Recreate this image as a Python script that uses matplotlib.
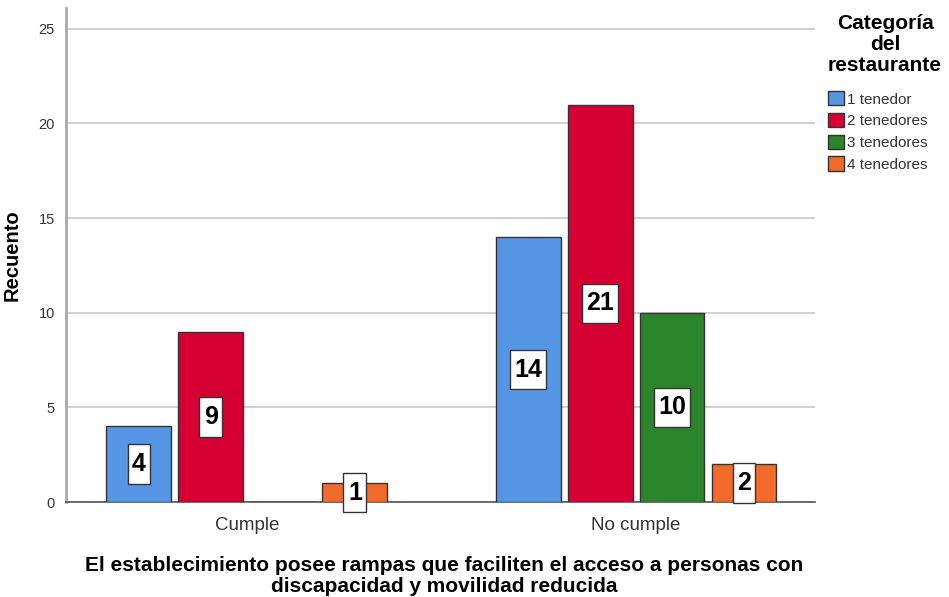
import numpy as np
import matplotlib
matplotlib.use("Agg")
import matplotlib.pyplot as plt
from matplotlib.path import Path

plt.rcParams["font.family"] = ["Liberation Sans", "DejaVu Sans"]

# Recuentos por grupo de cumplimiento y categoría del restaurante
grupos = ["Cumple", "No cumple"]
categorias = ["1 tenedor", "2 tenedores", "3 tenedores", "4 tenedores"]
recuento = {
    "1 tenedor": [4, 14],
    "2 tenedores": [9, 21],
    "3 tenedores": [0, 10],
    "4 tenedores": [1, 2],
}
colores = ["#5496E4", "#D60032", "#2B852A", "#F26B2B"]


def caja_alta(x0, y0, width, height, mutation_size):
    # caja rectangular con más relleno vertical que horizontal
    px = 0.18 * mutation_size
    py = 0.31 * mutation_size
    x0, x1 = x0 - px, x0 + width + px
    y0, y1 = y0 - py, y0 + height + py
    return Path([(x0, y0), (x1, y0), (x1, y1), (x0, y1), (x0, y0)],
                closed=True)


fig = plt.figure(figsize=(9.49, 5.97), dpi=100)
ax = fig.add_axes([66 / 949, 1 - 502 / 597, (815 - 66) / 949, (502 - 8) / 597])

x = np.arange(len(grupos))
ancho = 0.167
paso = 0.185
for i, (cat, col) in enumerate(zip(categorias, colores)):
    pos = x + (i - 1.5) * paso
    vals = recuento[cat]
    ax.bar(pos, vals, width=ancho, color=col, edgecolor="#333333",
           linewidth=1.0, label=cat, zorder=3)
    for p, v in zip(pos, vals):
        if v == 0:
            continue
        ax.text(p, v / 2, f"{v}", ha="center", va="center", fontsize=18,
                fontweight="bold", color="black", zorder=5,
                bbox=dict(boxstyle=caja_alta, fc="white",
                          ec="#333333", lw=1.0))

ax.set_xlim(-0.465, 1.46)
ax.set_ylim(0, 26.1)
ax.set_yticks([0, 5, 10, 15, 20, 25])
ax.set_xticks(x)
ax.set_xticklabels(grupos, fontsize=13.5, color="#333333")
ax.tick_params(axis="both", length=0)
ax.tick_params(axis="y", labelsize=10.5, colors="#333333", pad=8)
ax.tick_params(axis="x", pad=11)
ax.yaxis.grid(True, color="#CCCCCC", lw=1.3, zorder=0)
ax.set_axisbelow(True)

for s in ["top", "right"]:
    ax.spines[s].set_visible(False)
ax.spines["left"].set_color("#A8A8A8")
ax.spines["left"].set_linewidth(2)
ax.spines["bottom"].set_color("#555555")
ax.spines["bottom"].set_linewidth(1.2)

ax.set_ylabel("Recuento", fontsize=14.5, fontweight="bold", labelpad=12)
fig.text(444 / 949, 1 - 576 / 597,
         "El establecimiento posee rampas que faciliten el acceso a personas con\n"
         "discapacidad y movilidad reducida",
         ha="center", va="center", fontsize=15, fontweight="bold",
         linespacing=1.15)

leg = ax.legend(loc="upper left", bbox_to_anchor=(828 / 949, 1 - 14 / 597),
                bbox_transform=fig.transFigure, frameon=False,
                title="Categoría\ndel\nrestaurante", fontsize=11,
                handlelength=1.05, handleheight=1.05, handletextpad=0.2,
                labelspacing=0.42, borderaxespad=0, borderpad=0)
titulo = leg.get_title()
titulo.set_fontweight("bold")
titulo.set_fontsize(15)
titulo.set_linespacing(1.12)
titulo.set_multialignment("center")
leg._legend_box.align = "left"
leg._legend_box.sep = 12
for t in leg.get_texts():
    t.set_color("#333333")
for h in leg.legend_handles:
    h.set_edgecolor("#333333")

fig.savefig("out.png", dpi=100)
